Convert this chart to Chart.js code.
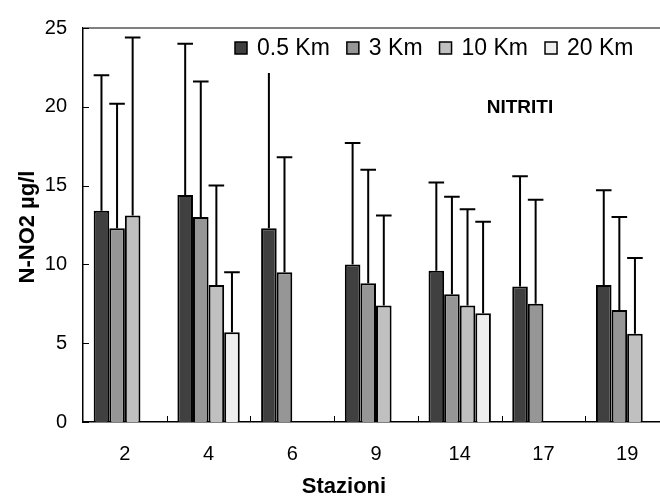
<!DOCTYPE html>
<html>
<head>
<meta charset="utf-8">
<script src="https://cdn.jsdelivr.net/npm/chart.js@4"></script>
<style>
  html, body { margin: 0; padding: 0; background: #fff; overflow: hidden; }
  #wrap { width: 680px; height: 500px; position: relative; }
</style>
</head>
<body>
<div id="wrap"><canvas id="myChart"></canvas></div>
<script>
// stations on the x axis
var stations = ["2", "4", "6", "9", "14", "17", "19"];
var seriesNames = ["0.5 Km", "3 Km", "10 Km", "20 Km"];

// mean N-NO2 (µg/l) per distance
var km05 = [13.4, 14.4, 12.3, 10.0, 9.6, 8.6, 8.7];
var km3  = [12.3, 13.0, 9.5, 8.8, 8.1, 7.5, 7.1];
var km10 = [13.1, 8.7, null, 7.4, 7.4, null, 5.6];
var km20 = [null, 5.7, null, null, 6.9, null, null];

// upper error (std dev) per distance
var err05 = [8.6, 9.6, 11.2, 7.7, 5.6, 7.0, 6.0];
var err3  = [7.9, 8.6, 7.3, 7.2, 6.2, 6.6, 5.9];
var err10 = [11.3, 6.3, null, 5.7, 6.1, null, 4.8];
var err20 = [null, 3.8, null, null, 5.8, null, null];

var yTicks = [0, 5, 10, 15, 20, 25];

var barColors = ["#404040", "#969696", "#c0c0c0", "#eeeeee"];
var means = [km05, km3, km10, km20];
var errs = [err05, err3, err10, err20];

var FONT = "'Liberation Sans', Arial, sans-serif";

// error bars, inward ticks, legend, titles
var overlay = {
  id: "overlay",
  afterDatasetsDraw: function(chart) {
    var ctx = chart.ctx, ys = chart.scales.y;
    ctx.save();
    ctx.strokeStyle = "#000";
    ctx.lineWidth = 2;
    errs.forEach(function(e, di) {
      var meta = chart.getDatasetMeta(di);
      meta.data.forEach(function(bar, i) {
        if (e[i] == null || means[di][i] == null) return;
        var top = ys.getPixelForValue(means[di][i] + e[i]);
        var half = bar.width / 2;
        ctx.beginPath();
        ctx.moveTo(bar.x, bar.y);
        ctx.lineTo(bar.x, top);
        ctx.moveTo(bar.x - half, top);
        ctx.lineTo(bar.x + half, top);
        ctx.stroke();
      });
    });
    ctx.restore();
  },
  afterDraw: function(chart) {
    var ctx = chart.ctx, a = chart.chartArea;
    var xs = chart.scales.x, ys = chart.scales.y;
    ctx.save();

    // top border of plot area
    ctx.strokeStyle = "#808080";
    ctx.lineWidth = 2;
    ctx.beginPath();
    ctx.moveTo(a.left, a.top);
    ctx.lineTo(a.right, a.top);
    ctx.stroke();

    // inward ticks
    ctx.strokeStyle = "#000";
    ctx.lineWidth = 1;
    yTicks.forEach(function(v) {
      var p = Math.round(ys.getPixelForValue(v)) + 0.5;
      ctx.beginPath();
      ctx.moveTo(a.left, p);
      ctx.lineTo(a.left + 6, p);
      ctx.stroke();
    });
    for (var i = 1; i < stations.length; i++) {
      var bx = Math.round((xs.getPixelForValue(i - 1) + xs.getPixelForValue(i)) / 2) + 0.5;
      ctx.beginPath();
      ctx.moveTo(bx, a.bottom);
      ctx.lineTo(bx, a.bottom - 6);
      ctx.stroke();
    }

    // legend
    ctx.fillStyle = "#fff";
    ctx.fillRect(228, 31, 430, 42);
    ctx.font = "23px " + FONT;
    ctx.textBaseline = "middle";
    ctx.textAlign = "left";
    var lx = 235;
    seriesNames.forEach(function(name, k) {
      ctx.fillStyle = barColors[k];
      ctx.fillRect(lx, 42, 12, 12);
      ctx.strokeStyle = "#000";
      ctx.lineWidth = 1.5;
      ctx.strokeRect(lx, 42, 12, 12);
      ctx.fillStyle = "#000";
      ctx.fillText(name, lx + 22, 49);
      lx += 22 + ctx.measureText(name).width + 17;
    });

    // annotation
    ctx.font = "bold 19px " + FONT;
    ctx.textAlign = "center";
    ctx.fillText("NITRITI", 520, 108);

    // axis titles
    ctx.font = "bold 22px " + FONT;
    ctx.fillText("Stazioni", 344, 487);
    ctx.translate(28, 227);
    ctx.rotate(-Math.PI / 2);
    ctx.fillText("N-NO2 µg/l", 0, 0);

    ctx.restore();
  }
};

var datasets = means.map(function(d, k) {
  return {
    label: seriesNames[k],
    data: d,
    backgroundColor: barColors[k],
    borderColor: "#000",
    borderWidth: 2,
    categoryPercentage: 0.745,
    barPercentage: 1.0
  };
});

new Chart("myChart", {
  type: "bar",
  data: {
    labels: stations,
    datasets: datasets
  },
  options: {
    responsive: true,
    maintainAspectRatio: false,
    animation: false,
    events: [],
    layout: { padding: { top: 24, right: 11, left: 0, bottom: 0 } },
    plugins: {
      legend: { display: false },
      tooltip: { enabled: false }
    },
    scales: {
      x: {
        grid: { display: false, drawTicks: false },
        border: { color: "#000", width: 1.5 },
        ticks: { color: "#000", padding: 20, font: { size: 20, family: FONT } },
        afterFit: function(s) { s.height = 78; }
      },
      y: {
        min: 0,
        max: 25,
        grid: { display: false, drawTicks: false },
        border: { color: "#000", width: 1.5 },
        ticks: { stepSize: 5, color: "#000", padding: 16, font: { size: 20, family: FONT } },
        afterFit: function(s) { s.width = 83; }
      }
    }
  },
  plugins: [overlay]
});
</script>
</body>
</html>
